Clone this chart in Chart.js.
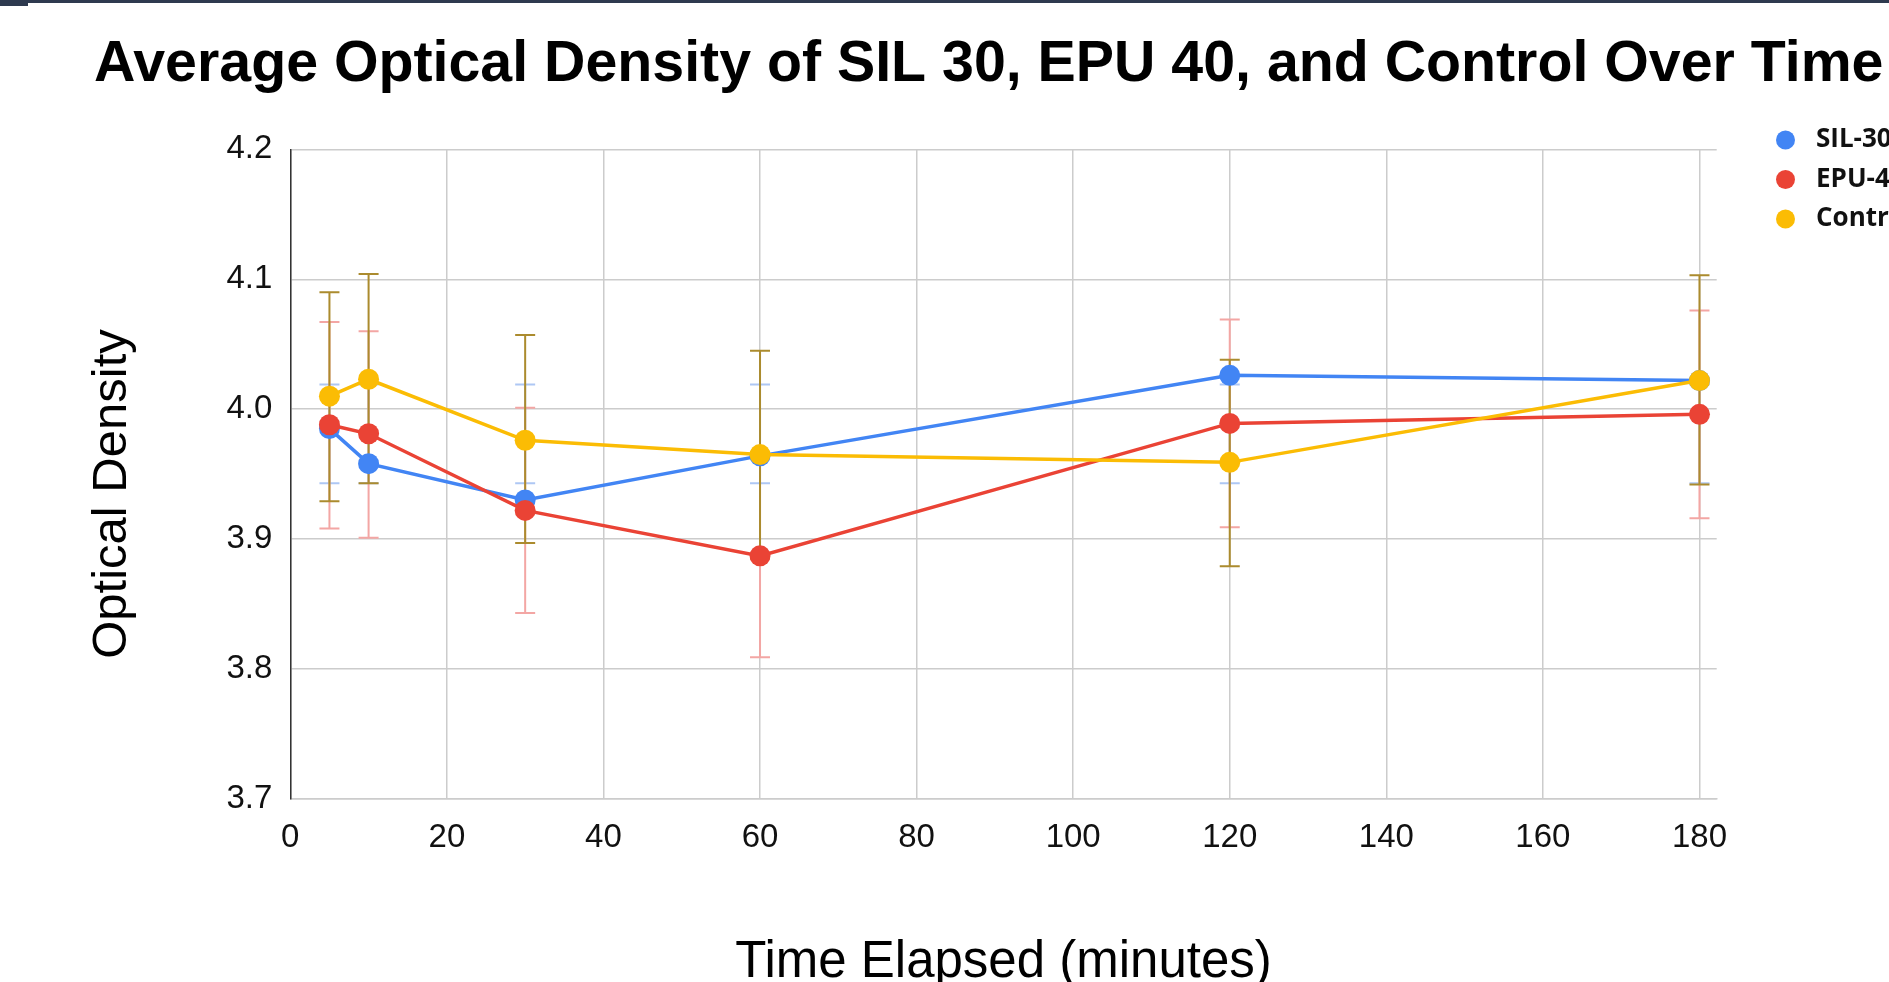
<!DOCTYPE html>
<html>
<head>
<meta charset="utf-8">
<script src="https://cdn.jsdelivr.net/npm/chart.js@4.4.1/dist/chart.umd.min.js"></script>
<style>
html,body{margin:0;padding:0;background:#fff;overflow:hidden;}
#wrap{position:relative;width:1889px;height:982px;}
canvas{position:absolute;left:0;top:0;}
#barTop{position:absolute;left:0;top:0;width:1889px;height:3px;background:#2e3a4f;}
#barLeft{position:absolute;left:0;top:0;width:28px;height:6px;background:#2e3a4f;}
</style>
</head>
<body>
<div id="wrap">
<canvas id="c" width="1889" height="982"></canvas>
<div id="barTop"></div><div id="barLeft"></div>
</div>
<script>
// ---- data ----
const chartTitle = 'Average Optical Density of SIL 30, EPU 40, and Control Over Time';
const xAxisTitle = 'Time Elapsed (minutes)';
const yAxisTitle = 'Optical Density';
const seriesNames = ['SIL-30', 'EPU-40', 'Control'];
const times = [5, 10, 30, 60, 120, 180];
const sil30 = [3.985, 3.958, 3.930, 3.964, 4.026, 4.022];
const epu40 = [3.988, 3.981, 3.922, 3.887, 3.989, 3.996];
const control = [4.010, 4.023, 3.976, 3.965, 3.959, 4.022];
const sil30Low = [3.943, 3.943, 3.943, 3.943, 3.943, 3.943];
const sil30High = [4.019, 4.019, 4.019, 4.019, 4.019, 4.019];
const epu40Low = [3.908, 3.901, 3.843, 3.809, 3.909, 3.916];
const epu40High = [4.067, 4.060, 4.001, 3.966, 4.069, 4.076];
const controlLow = [3.929, 3.943, 3.897, 3.885, 3.879, 3.942];
const controlHigh = [4.090, 4.104, 4.057, 4.045, 4.038, 4.103];
const yTicks = [3.7, 3.8, 3.9, 4.0, 4.1, 4.2];
const xTickStep = 20;

// ---- styles ----
const colors = ['#4285f4', '#ea4335', '#fbbc04'];
const errColors = ['#aec7f4', '#f3a6a4', '#ab8b2e'];
const FONT = '"Liberation Sans", Arial, sans-serif';

const toPts = (vals) => times.map((t, i) => ({x: t, y: vals[i]}));
const seriesVals = [sil30, epu40, control];
const errLow = [sil30Low, epu40Low, controlLow];
const errHigh = [sil30High, epu40High, controlHigh];

const errorBarsPlugin = {
  id: 'errorBars',
  beforeDatasetsDraw(chart) {
    const ctx = chart.ctx, xs = chart.scales.x, ys = chart.scales.y;
    ctx.save();
    ctx.lineWidth = 2;
    for (let s = 0; s < errLow.length; s++) {
      ctx.strokeStyle = errColors[s];
      times.forEach((t, i) => {
        const x = xs.getPixelForValue(t);
        const y1 = ys.getPixelForValue(errLow[s][i]);
        const y2 = ys.getPixelForValue(errHigh[s][i]);
        ctx.beginPath();
        ctx.moveTo(x, y1); ctx.lineTo(x, y2);
        ctx.moveTo(x - 10, y1); ctx.lineTo(x + 10, y1);
        ctx.moveTo(x - 10, y2); ctx.lineTo(x + 10, y2);
        ctx.stroke();
      });
    }
    ctx.restore();
  }
};

const decorPlugin = {
  id: 'decor',
  afterDraw(chart) {
    const ctx = chart.ctx;
    ctx.save();
    // title
    ctx.fillStyle = '#000';
    ctx.font = 'bold 57.3px ' + FONT;
    ctx.textAlign = 'left';
    ctx.textBaseline = 'alphabetic';
    ctx.fillText(chartTitle, 94, 81);
    // y axis title
    ctx.save();
    ctx.translate(126, 494);
    ctx.rotate(-Math.PI / 2);
    ctx.font = '49px ' + FONT;
    ctx.fillStyle = '#000';
    ctx.textAlign = 'center';
    ctx.fillText(yAxisTitle, 0, 0);
    ctx.restore();
    // legend
    chart.data.datasets.forEach((ds, i) => {
      const cy = 140 + i * 39.5;
      ctx.beginPath();
      ctx.fillStyle = ds.borderColor;
      ctx.arc(1785.5, cy, 9.5, 0, Math.PI * 2);
      ctx.fill();
      ctx.fillStyle = '#111';
      ctx.font = 'bold 26px "Open Sans", "Noto Sans", sans-serif';
      ctx.textBaseline = 'middle';
      ctx.textAlign = 'left';
      ctx.fillText(ds.label, 1816, cy);
    });
    ctx.restore();
  }
};

new Chart(document.getElementById('c'), {
  type: 'line',
  data: {
    datasets: seriesNames.map((name, i) => ({
      label: name,
      data: toPts(seriesVals[i]),
      borderColor: colors[i],
      backgroundColor: colors[i],
      borderWidth: 3.5,
      pointRadius: 10.5,
      pointHoverRadius: 10.5,
      pointBorderWidth: 0,
      tension: 0,
      order: 2 - i
    }))
  },
  options: {
    responsive: false,
    animation: false,
    devicePixelRatio: 1,
    layout: {padding: {top: 149.4, right: 172.3, bottom: 0, left: 0}},
    plugins: {
      legend: {display: false},
      title: {display: false},
      tooltip: {enabled: false}
    },
    scales: {
      x: {
        type: 'linear',
        min: 0,
        max: 182.2,
        afterFit: (s) => { s.height = 183.3; },
        ticks: {
          stepSize: xTickStep,
          includeBounds: false,
          maxRotation: 0,
          autoSkip: false,
          padding: 19,
          color: '#111',
          font: {family: FONT, size: 33, lineHeight: 1.2}
        },
        grid: {color: '#cccccc', lineWidth: 1.5, drawTicks: false},
        border: {display: true, color: '#cccccc', width: 1.5},
        title: {
          display: true,
          text: xAxisTitle,
          color: '#000',
          font: {family: FONT, size: 51, lineHeight: 0.73},
          padding: {top: 0, bottom: 0}
        }
      },
      y: {
        type: 'linear',
        min: yTicks[0],
        max: yTicks[yTicks.length - 1],
        afterFit: (s) => { s.width = 290.3; },
        afterBuildTicks: (s) => { s.ticks = yTicks.map(v => ({value: v})); },
        ticks: {
          padding: 18,
          color: '#111',
          font: {family: FONT, size: 33, lineHeight: 1.2},
          callback: (v) => Number(v).toFixed(1)
        },
        grid: {color: '#cccccc', lineWidth: 1.5, drawTicks: false},
        border: {display: true, color: '#333333', width: 1.5}
      }
    }
  },
  plugins: [errorBarsPlugin, decorPlugin]
});
</script>
</body>
</html>
